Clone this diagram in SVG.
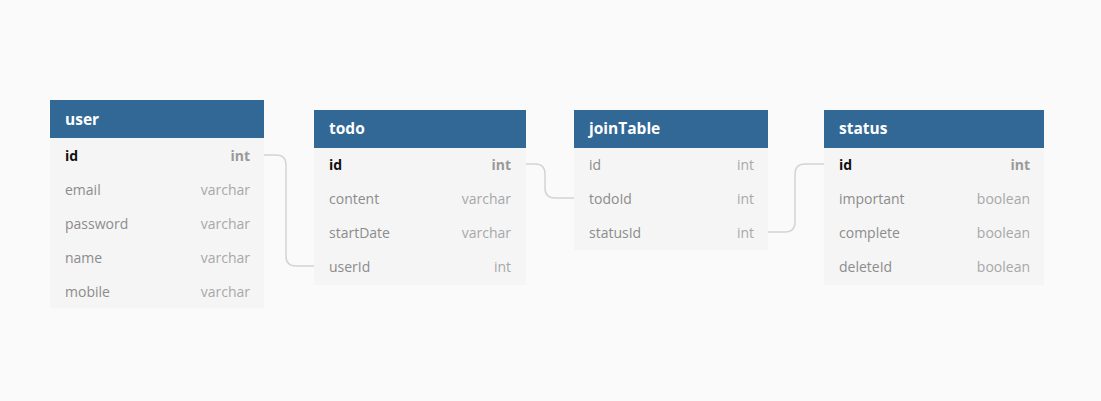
<svg xmlns="http://www.w3.org/2000/svg" width="1101" height="401" viewBox="0 0 1101 401">
<style>
.bg{fill:#fafafa}
.body{fill:#f5f5f5}
.head{fill:#316896}
.ht{font-family:"Open Sans","Noto Sans",sans-serif;font-size:15.5px;font-weight:bold;fill:#ffffff}
.fn{font-family:"Open Sans","Noto Sans",sans-serif;font-size:14px;fill:#8c8c8c}
.ft{font-family:"Open Sans","Noto Sans",sans-serif;font-size:14px;fill:#a8a8a8;text-anchor:end}
.pk{fill:#111111;font-weight:bold}
.pkt{fill:#999999;font-weight:bold}
.conn{fill:none;stroke:#d4d4d4;stroke-width:1.5}
</style>
<rect class="bg" x="0" y="0" width="1101" height="401"/>
<g id="connectors">
<path class="conn" d="M264,155 H276 Q286,155 286,165 V256 Q286,266 296,266 H314"/>
<path class="conn" d="M526,164 H535 Q545,164 545,174 V188 Q545,198 555,198 H574"/>
<path class="conn" d="M768,232 H785 Q795,232 795,222 V174 Q795,164 805,164 H824"/>
</g>
<g id="user">
<rect class="body" x="50" y="100" width="214" height="208"/>
<rect class="head" x="50" y="100" width="214" height="38"/>
<text class="ht" x="65" y="125">user</text>
<text class="fn pk" x="65" y="161">id</text><text class="ft pkt" x="250" y="161">int</text>
<text class="fn" x="65" y="195">email</text><text class="ft" x="250" y="195">varchar</text>
<text class="fn" x="65" y="229">password</text><text class="ft" x="250" y="229">varchar</text>
<text class="fn" x="65" y="263">name</text><text class="ft" x="250" y="263">varchar</text>
<text class="fn" x="65" y="297">mobile</text><text class="ft" x="250" y="297">varchar</text>
</g>
<g id="todo">
<rect class="body" x="314" y="110" width="212" height="175"/>
<rect class="head" x="314" y="110" width="212" height="38"/>
<text class="ht" x="329" y="134">todo</text>
<text class="fn pk" x="329" y="170">id</text><text class="ft pkt" x="511" y="170">int</text>
<text class="fn" x="329" y="204">content</text><text class="ft" x="511" y="204">varchar</text>
<text class="fn" x="329" y="238">startDate</text><text class="ft" x="511" y="238">varchar</text>
<text class="fn" x="329" y="272">userId</text><text class="ft" x="511" y="272">int</text>
</g>
<g id="joinTable">
<rect class="body" x="574" y="110" width="194" height="140"/>
<rect class="head" x="574" y="110" width="194" height="38"/>
<text class="ht" x="589" y="134">joinTable</text>
<text class="fn" x="589" y="170">id</text><text class="ft" x="754" y="170">int</text>
<text class="fn" x="589" y="204">todoId</text><text class="ft" x="754" y="204">int</text>
<text class="fn" x="589" y="238">statusId</text><text class="ft" x="754" y="238">int</text>
</g>
<g id="status">
<rect class="body" x="824" y="110" width="220" height="175"/>
<rect class="head" x="824" y="110" width="220" height="38"/>
<text class="ht" x="839" y="134">status</text>
<text class="fn pk" x="839" y="170">id</text><text class="ft pkt" x="1030" y="170">int</text>
<text class="fn" x="839" y="204">important</text><text class="ft" x="1030" y="204">boolean</text>
<text class="fn" x="839" y="238">complete</text><text class="ft" x="1030" y="238">boolean</text>
<text class="fn" x="839" y="272">deleteId</text><text class="ft" x="1030" y="272">boolean</text>
</g>
</svg>
